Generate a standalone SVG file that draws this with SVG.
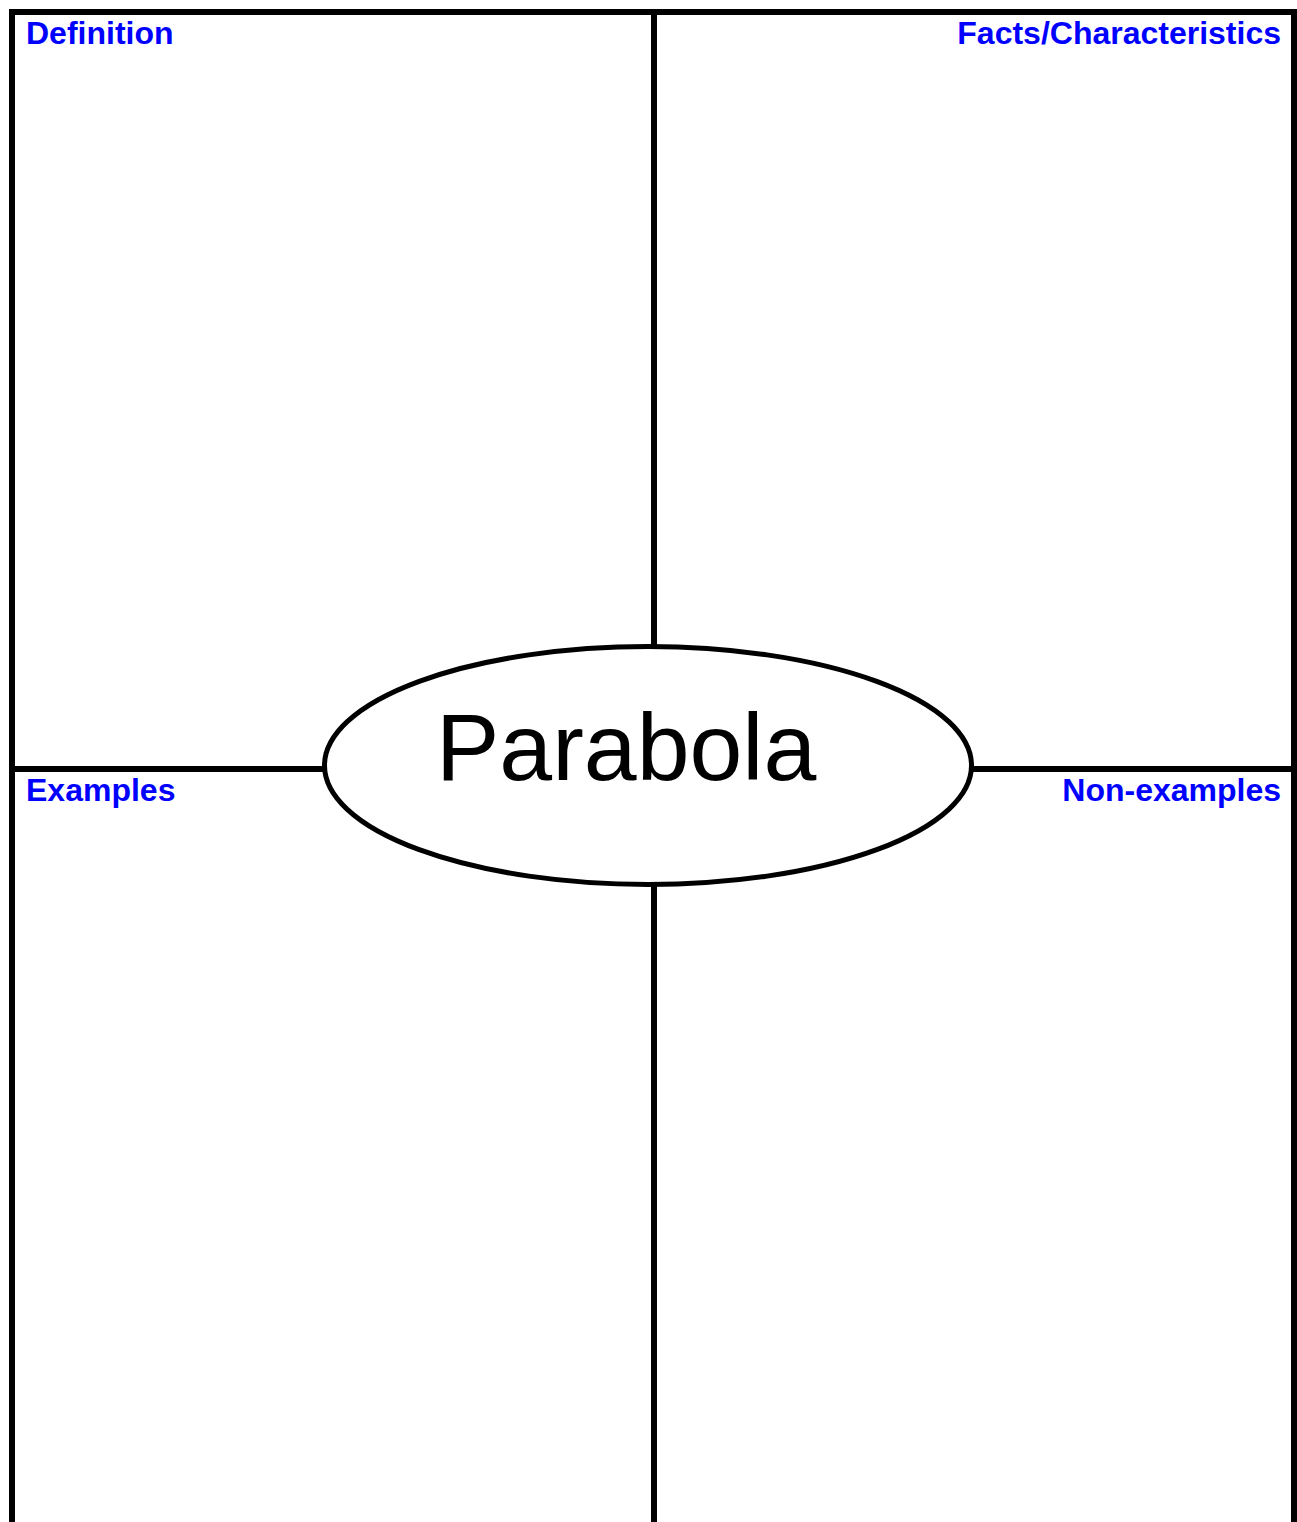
<svg xmlns="http://www.w3.org/2000/svg" width="1297" height="1522" viewBox="0 0 1297 1522">
<style>
.ln{stroke:#000;stroke-width:6;fill:none}
.el{stroke:#000;stroke-width:5;fill:#fff}
.lbl{font-family:"Liberation Sans",Arial,sans-serif;font-weight:bold;font-size:32px;fill:#0000FF}
.title{font-family:"Liberation Sans",Arial,sans-serif;font-size:95px;fill:#000}
</style>
<rect width="1297" height="1522" fill="#fff"/>
<g id="connectors">
<line class="ln" x1="9" y1="12" x2="1297" y2="12"/>
<line class="ln" x1="12" y1="9" x2="12" y2="1522"/>
<line class="ln" x1="1294" y1="9" x2="1294" y2="1522"/>
<line class="ln" x1="654" y1="12" x2="654" y2="646"/>
<line class="ln" x1="654" y1="885" x2="654" y2="1522"/>
<line class="ln" x1="12" y1="769" x2="325" y2="769"/>
<line class="ln" x1="971" y1="769" x2="1294" y2="769"/>
</g>
<g id="definition"><text class="lbl" x="26" y="44">Definition</text></g>
<g id="facts"><text class="lbl" x="1281" y="44" text-anchor="end">Facts/Characteristics</text></g>
<g id="examples"><text class="lbl" x="26" y="801">Examples</text></g>
<g id="nonexamples"><text class="lbl" x="1281" y="801" text-anchor="end">Non-examples</text></g>
<g id="parabola">
<ellipse class="el" cx="648" cy="765.5" rx="323.5" ry="119"/>
<text class="title" x="436" y="780">Parabola</text>
</g>
</svg>
